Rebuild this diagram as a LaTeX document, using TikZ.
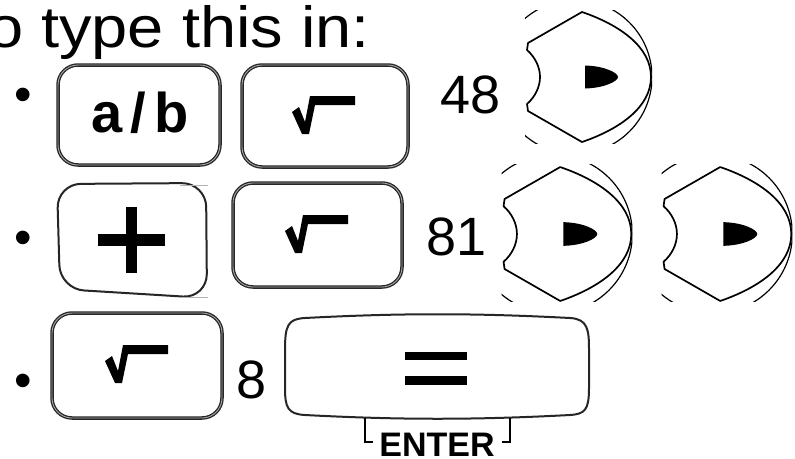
\documentclass[tikz,border=0pt]{standalone}
\usepackage{fontspec}
\setmainfont{Liberation Sans}
\usetikzlibrary{calc}

\begin{document}
\begin{tikzpicture}[x=1pt, y=-1pt,
		keybox/.style={draw=black!85, double=black!35, double distance=0.9pt,
			line width=1.3pt, rounded corners=20pt, inner sep=0pt},
		keyline/.style={draw=black!85, line width=2pt},
		digit/.style={anchor=base west, inner sep=0pt, font=\fontsize{54}{54}\selectfont},
		dot/.style={anchor=base west, inner sep=0pt, font=\fontsize{50}{50}\selectfont},
		arrowkey/.pic={
			\begin{scope}
				\clip (-50,-67) rectangle (77,66);
				\draw[line width=1.2pt] (0,0) circle[radius=77];
			\end{scope}
			\draw[line width=1.7pt, line join=round] (7,-65)
			.. controls (45,-52) and (76,-30) .. (76,0)
			.. controls (76,30) and (45,52) .. (7,65)
			-- (-47,34) -- (-48,27)
			.. controls (-40,20) and (-35,10) .. (-35,0)
			.. controls (-35,-10) and (-40,-20) .. (-48,-27)
			-- (-47,-34) -- cycle;
			\fill (10,-11.5) .. controls (30,-11) and (43,-4) .. (43,0)
			.. controls (43,4) and (30,11) .. (10,11.5) -- cycle;
		},
		radical/.pic={
			\fill (-32,-5) -- (-25,-10) -- (-19,5) -- (-14,-21) -- (31,-21)
			-- (31,-12) -- (-9,-12) -- (-15,17) -- (-22,17) -- cycle;
		}
		]
		\useasboundingbox (0,0) rectangle (795,458);
		
		% heading, cut at the left
		\node[anchor=base west, inner sep=0pt, xscale=1.12,
		font=\fontsize{58}{58}\selectfont] (title) at (-13,47) {o type this in:};
		
		% first line
		\node[dot] (dot1) at (14,111) {•};
		\node[keybox, minimum width=162pt, minimum height=100pt] (ab) at (139,115) {};
		\node[anchor=base, inner sep=0pt, font=\bfseries\fontsize{56}{56}\selectfont]
		(abtext) at (140,132) {a\kern8pt/\kern8pt b};
		\node[keybox, minimum width=166pt, minimum height=102pt] (sqrtA) at (325,116) {};
		\pic at (324,117) {radical};
		\node[digit] (n48) at (440,113) {48};
		\pic (rightA) at (575,77) {arrowkey};
		
		% second line
		\node[dot] (dot2) at (14,254) {•};
		\coordinate (plus) at (132,240);
		\draw[keyline, rounded corners=24pt] (57,184) -- (206,183) -- (207,298) -- (60,289) -- cycle;
		\fill ($(plus)+(-6,-33)$) rectangle ($(plus)+(5,33)$);
		\fill ($(plus)+(-34,-6)$) rectangle ($(plus)+(33,6)$);
		\draw[gray!60, line width=1pt] (180,185) -- (208,185) (180,297) -- (208,297);
		\node[keybox, minimum width=169pt, minimum height=104pt] (sqrtB) at (317.5,235) {};
		\pic at (317,236) {radical};
		\node[digit] (n81) at (426,255) {81};
		\pic[scale=1.03] (rightB) at (553,234) {arrowkey};
		\pic[scale=1.03] (rightC) at (713,234) {arrowkey};
		
		% third line
		\node[dot] (dot3) at (14,397) {•};
		\node[keybox, minimum width=170pt, minimum height=105pt] (sqrtC) at (137,365.5) {};
		\pic at (137,366) {radical};
		\node[digit] (n8) at (236,398) {8};
		\draw[keyline] (305,318) .. controls (400,313) and (475,313) .. (570,318)
		.. controls (588,319) and (589,330) .. (589,350) -- (589,388)
		.. controls (589,410) and (585,414) .. (570,415)
		.. controls (475,420) and (400,420) .. (305,415)
		.. controls (288,414) and (285,408) .. (285,388) -- (285,350)
		.. controls (285,325) and (288,319) .. (305,318) -- cycle;
		\coordinate (equals) at (436,368);
		\fill ($(equals)+(-31,-16)$) rectangle ($(equals)+(31,-8)$);
		\fill ($(equals)+(-31,8)$) rectangle ($(equals)+(31,17)$);
		\node[anchor=base, inner sep=0pt,
		font=\bfseries\fontsize{34}{34}\selectfont] (enter) at (437,456) {ENTER};
		\draw[line width=2.3pt] (365,418) -- (365,442) -- (373,442);
		\draw[line width=2.3pt] (510,418) -- (510,442) -- (502,442);
	\end{tikzpicture}
\end{document}
